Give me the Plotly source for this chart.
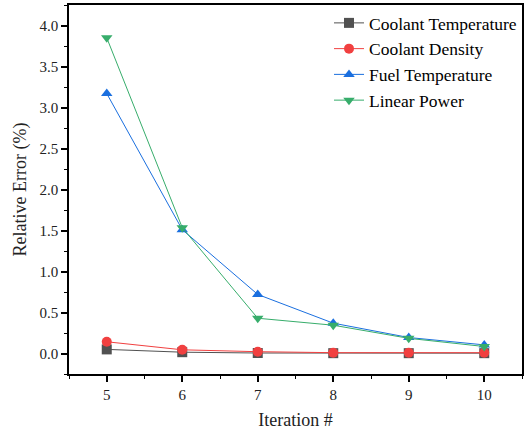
import plotly.graph_objects as go

iterations = [5, 6, 7, 8, 9, 10]
coolant_temperature = [0.05, 0.016, 0.006, 0.004, 0.004, 0.004]
coolant_density = [0.143, 0.045, 0.022, 0.01, 0.01, 0.01]
fuel_temperature = [3.17, 1.51, 0.72, 0.37, 0.195, 0.105]
linear_power = [3.85, 1.535, 0.43, 0.345, 0.185, 0.085]

series = [
    ("Coolant Temperature", coolant_temperature, "#515151", "square"),
    ("Coolant Density", coolant_density, "#F14040", "circle"),
    ("Fuel Temperature", fuel_temperature, "#1A6FDF", "triangle-up"),
    ("Linear Power", linear_power, "#37AD6B", "triangle-down"),
]

font_family = "Liberation Serif"

fig = go.Figure()
for name, vals, color, sym in series:
    fig.add_trace(go.Scatter(
        x=iterations, y=vals, name=name, mode="lines+markers",
        line=dict(color=color, width=1),
        marker=dict(color=color, symbol=sym, size=10),
    ))

fig.update_layout(
    width=526, height=432,
    margin=dict(l=69, r=2, t=5, b=58),
    paper_bgcolor="white", plot_bgcolor="white",
    font=dict(family=font_family, color="black", size=15),
    legend=dict(
        x=1.0, y=1.0, xanchor="right", yanchor="top",
        bgcolor="rgba(0,0,0,0)", borderwidth=0,
        font=dict(family=font_family, size=17.5, color="black"),
        tracegroupgap=0,
    ),
    showlegend=True,
)

axis_common = dict(
    showline=True, linecolor="black", linewidth=1.5, mirror=True,
    ticks="outside", ticklen=6, tickwidth=1.5, tickcolor="black",
    showgrid=False, zeroline=False,
    tickfont=dict(family=font_family, size=15, color="#222"),
)

fig.update_xaxes(
    range=[4.5, 10.5], dtick=1, tick0=5,
    minor=dict(dtick=0.5, tick0=4.5, ticks="outside", ticklen=3, tickwidth=1.2, tickcolor="black"),
    title=dict(text="Iteration #", font=dict(family=font_family, size=18, color="#222"), standoff=12),
    **axis_common,
)
fig.update_yaxes(
    range=[-0.25, 4.25], dtick=0.5, tick0=0, tickformat=".1f",
    minor=dict(dtick=0.25, tick0=0, ticks="outside", ticklen=3, tickwidth=1.2, tickcolor="black"),
    title=dict(text="Relative Error (%)", font=dict(family=font_family, size=18, color="#222"), standoff=8),
    **axis_common,
)

fig.write_html("out.html")
